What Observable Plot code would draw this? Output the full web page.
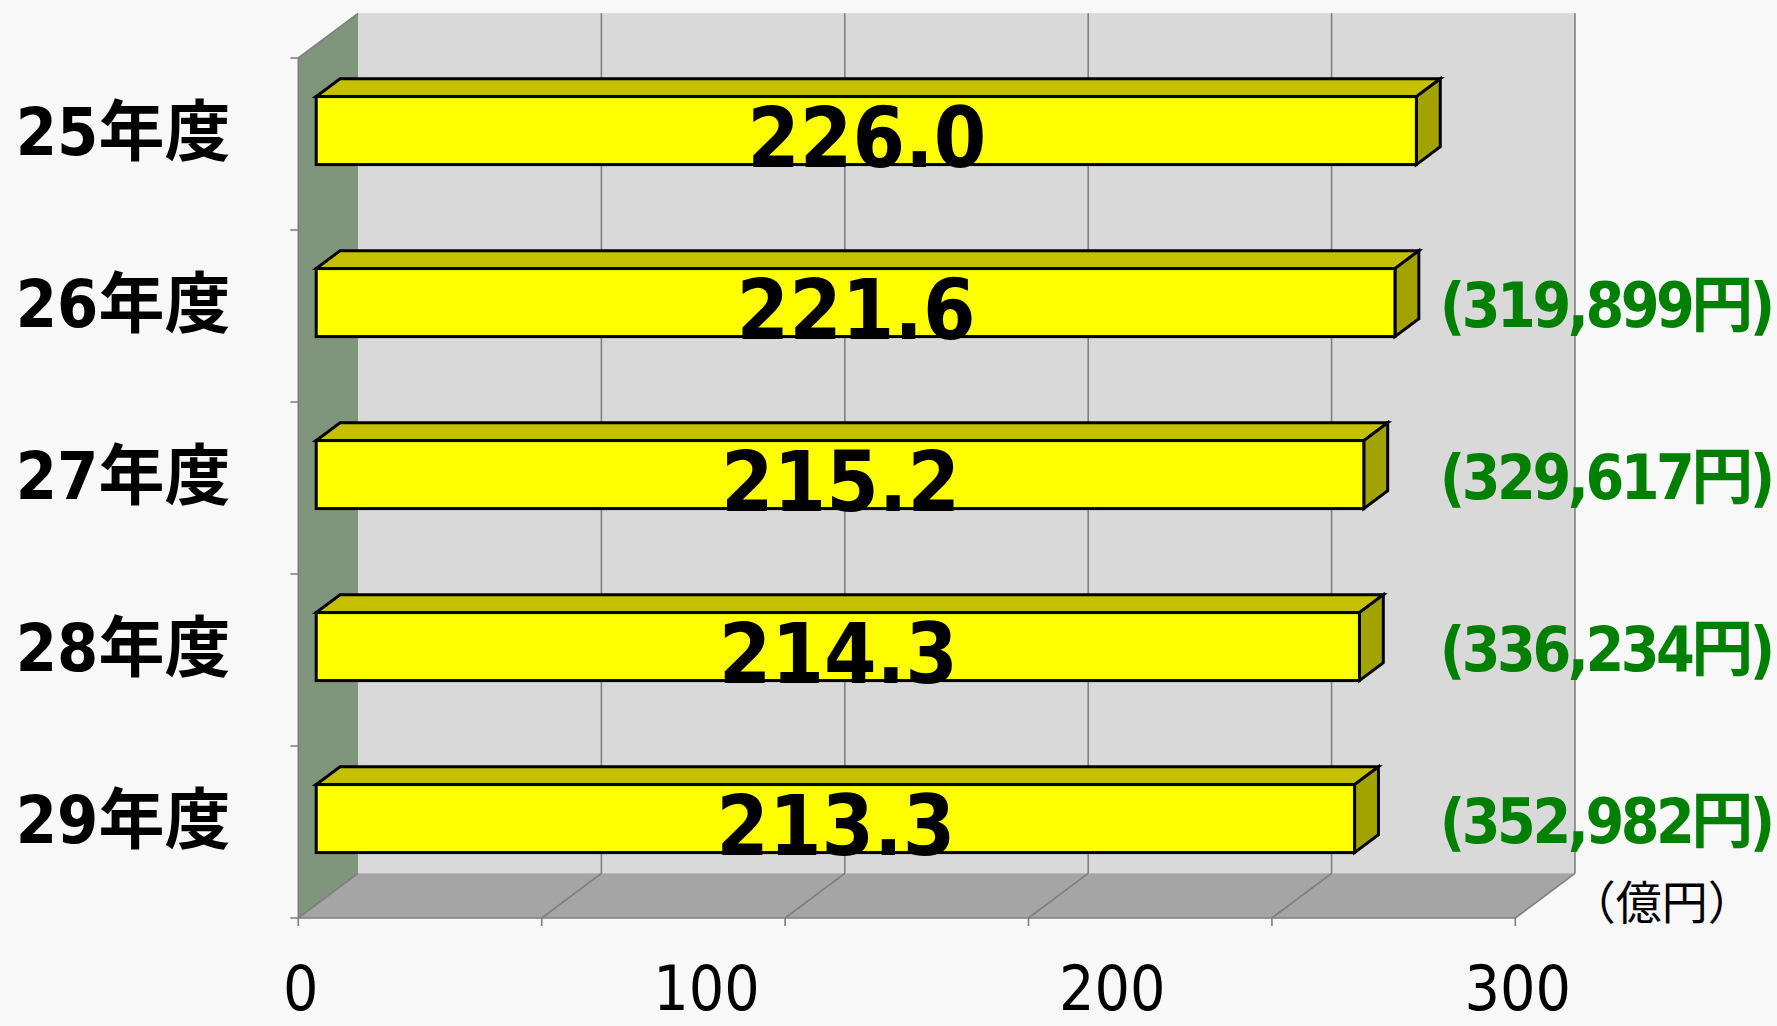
<!DOCTYPE html>
<html>
<head>
<meta charset="utf-8">
<script src="https://cdn.jsdelivr.net/npm/d3@7"></script>
<script src="https://cdn.jsdelivr.net/npm/@observablehq/plot@0.6"></script>
<style>
html, body { margin: 0; padding: 0; background: #f8f8f8; }
#chart svg { display: block; }
</style>
</head>
<body>
<div id="chart"></div>
<script>
// ---- data ----
const years = ["25年度", "26年度", "27年度", "28年度", "29年度"];
const amounts = [226.0, 221.6, 215.2, 214.3, 213.3];
const perPerson = [null, "319,899", "329,617", "336,234", "352,982"];
const gridTicks = [0, 50, 100, 150, 200, 250];
const tickLabels = [0, 100, 200, 300];
const unitLabel = "（億円）";

// ---- style constants (3D look) ----
const DX = 59.7, DY = -44.7;      // depth offset of the plot box
const F0 = 0.3, FB = 0.4;         // bar front-plane depth and bar thickness (fraction of depth)
const INSET = 52;                 // band inset for bars
const numFont = '"DejaVu Sans Condensed", "DejaVu Sans", "Noto Sans CJK JP", sans-serif';
const grid = "#7f7f7f";

const rows = years.map((year, i) => ({year, amount: amounts[i], perPerson: perPerson[i]}));

function scene(index, {x, y}) {
  const g = d3.create("svg:g");
  const [v0, v1] = x.domain();
  const X0 = x(v0), X1 = x(v1);
  const Y0 = y(years[0]), Y1 = y(years[years.length - 1]) + y.bandwidth();
  const poly = (pts, fill) => g.append("path")
    .attr("d", "M" + pts.map(p => p.join(",")).join("L") + "Z")
    .attr("fill", fill);
  const line = (a, b, c, d) => g.append("line")
    .attr("x1", a).attr("y1", b).attr("x2", c).attr("y2", d)
    .attr("stroke", grid).attr("stroke-width", 1.6);
  poly([[X0 + DX, Y0 + DY], [X1 + DX, Y0 + DY], [X1 + DX, Y1 + DY], [X0 + DX, Y1 + DY]], "#d9d9d9");
  poly([[X0, Y0], [X0 + DX, Y0 + DY], [X0 + DX, Y1 + DY], [X0, Y1]], "#80967c");
  poly([[X0, Y1], [X1, Y1], [X1 + DX, Y1 + DY], [X0 + DX, Y1 + DY]], "#a5a5a5");
  for (const v of gridTicks) {
    if (v !== v0) line(x(v) + DX, Y0 + DY, x(v) + DX, Y1 + DY);
    line(x(v), Y1, x(v) + DX, Y1 + DY);
    line(x(v), Y1, x(v), Y1 + 8);
  }
  line(X0, Y0, X0, Y1);
  line(X0, Y0, X0 + DX, Y0 + DY);
  line(X0, Y1, X1, Y1);
  const bounds = years.map(d => y(d)).concat([Y1]);
  for (const yy of bounds) line(X0 - 8, yy, X0, yy);
  return g.node();
}

function barFaces(index, {x, y}) {
  const g = d3.create("svg:g").attr("stroke", "#000").attr("stroke-width", 3).attr("stroke-linejoin", "miter");
  const bw = y.bandwidth();
  const bx = FB * DX, by = FB * DY;
  const poly = (pts, fill) => g.append("path")
    .attr("d", "M" + pts.map(p => p.join(",")).join("L") + "Z")
    .attr("fill", fill);
  for (const r of rows) {
    const xl = x(0) + F0 * DX, xr = x(r.amount) + F0 * DX;
    const yt = y(r.year) + INSET + F0 * DY, yb = y(r.year) + bw - INSET + F0 * DY;
    poly([[xl, yt], [xr, yt], [xr + bx, yt + by], [xl + bx, yt + by]], "#c4c000");
    poly([[xr, yt], [xr + bx, yt + by], [xr + bx, yb + by], [xr, yb]], "#a3a300");
  }
  return g.node();
}

const chart = Plot.plot({
  width: 1777,
  height: 1026,
  marginLeft: 298.3,
  marginRight: 261.7,
  marginTop: 57,
  marginBottom: 108,
  style: {background: "#f8f8f8", overflow: "visible"},
  x: {domain: [gridTicks[0], gridTicks[gridTicks.length - 1]], axis: null},
  y: {domain: years, axis: null, padding: 0},
  marks: [
    scene,
    barFaces,
    Plot.barX(rows, {
      x: "amount", y: "year", fill: "#ffff00", stroke: "#000", strokeWidth: 3,
      insetTop: INSET, insetBottom: INSET, dx: F0 * DX, dy: F0 * DY
    }),
    Plot.text(rows, {
      x: d => d.amount / 2, y: "year", text: d => d.amount.toFixed(1),
      textAnchor: "middle", lineAnchor: "middle",
      dx: F0 * DX, dy: -4.5, fontSize: 84, fontWeight: "bold", fontFamily: numFont, fill: "#000"
    }),
    Plot.text(rows.filter(d => d.perPerson), {
      y: "year", text: d => `(${d.perPerson}円)`, frameAnchor: "right",
      textAnchor: "middle", lineAnchor: "middle",
      dx: 90, dy: -9, fontSize: 62, fontWeight: "bold", fontFamily: numFont, fill: "#008000"
    }),
    Plot.text(years, {
      y: d => d, text: d => d, frameAnchor: "left", textAnchor: "start", lineAnchor: "middle",
      dx: -283, dy: -11, fontSize: 66, fontWeight: "bold", fontFamily: numFont, fill: "#000"
    }),
    Plot.text(tickLabels, {
      x: d => d * gridTicks[gridTicks.length - 1] / tickLabels[tickLabels.length - 1],
      frameAnchor: "bottom", textAnchor: "middle", lineAnchor: "middle",
      text: d => String(d), dx: 2, dy: 72,
      fontSize: 62, fontFamily: numFont, fill: "#000"
    }),
    Plot.text([unitLabel], {
      text: d => d, frameAnchor: "bottom-right", textAnchor: "middle", lineAnchor: "middle",
      dx: 146, dy: -14,
      fontSize: 46, fontFamily: '"Noto Sans CJK JP", sans-serif', fill: "#000"
    })
  ]
});
document.getElementById("chart").append(chart);
d3.select(chart).selectAll('g[fill="#008000"] text').style("letter-spacing", "-3.5px");
</script>
</body>
</html>
